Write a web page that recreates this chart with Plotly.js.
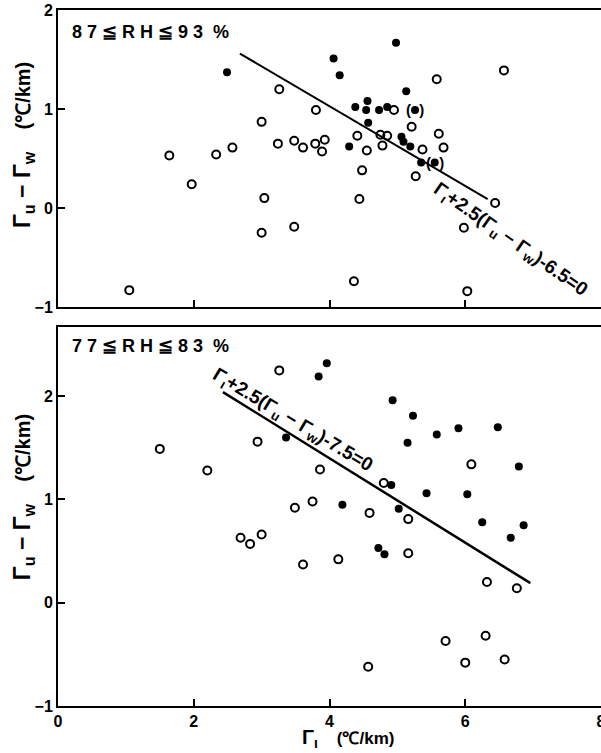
<!DOCTYPE html>
<html><head><meta charset="utf-8">
<script src="https://cdn.plot.ly/plotly-3.0.1.min.js"></script>
<style>html,body{margin:0;padding:0;background:#fff}</style>
</head><body><div id="chart" style="width:601px;height:753px"></div>
<script>
// Top panel: 87 <= RH <= 93 %
const topOpenX = [3.26,3.00,3.24,3.48,2.57,2.33,1.64,1.97,3.04,3.00,3.48,1.05,6.57,5.58,4.95,3.80,5.21,3.61,3.79,3.93,3.89,4.41,4.55,4.75,4.85,4.78,5.37,5.61,5.68,4.48,5.27,4.44,6.44,5.98,4.36,6.03];
const topOpenY = [1.20,0.87,0.65,0.68,0.61,0.54,0.53,0.24,0.10,-0.25,-0.19,-0.83,1.39,1.30,0.99,0.99,0.82,0.61,0.65,0.69,0.57,0.73,0.58,0.74,0.73,0.63,0.59,0.75,0.61,0.38,0.32,0.09,0.05,-0.20,-0.74,-0.84];
const topFillX = [2.49,4.98,4.06,4.15,5.13,4.56,4.38,4.54,4.73,4.85,4.57,4.29,5.06,5.09,5.19,5.35];
const topFillY = [1.37,1.67,1.51,1.34,1.18,1.08,1.02,0.99,0.99,1.02,0.86,0.62,0.72,0.67,0.62,0.46];
const topParenX = [5.26,5.55];
const topParenY = [0.99,0.46];
const topLineX = [2.68,6.33];
const topLineY = [1.56,0.09];
// Bottom panel: 77 <= RH <= 83 %
const botOpenX = [3.26,2.94,1.50,2.20,3.49,2.69,2.83,3.00,6.09,3.86,4.80,3.75,4.59,5.16,5.16,4.13,3.61,6.32,6.76,5.71,6.30,6.00,6.58,4.57];
const botOpenY = [2.25,1.56,1.49,1.28,0.92,0.63,0.57,0.66,1.34,1.29,1.16,0.98,0.87,0.81,0.48,0.42,0.37,0.20,0.14,-0.37,-0.32,-0.58,-0.55,-0.62];
const botFillX = [3.36,3.96,3.84,4.93,5.23,5.58,5.90,6.48,5.15,6.79,4.91,5.43,6.03,4.19,5.02,6.25,6.86,6.67,4.72,4.81];
const botFillY = [1.60,2.32,2.19,1.96,1.81,1.63,1.69,1.70,1.55,1.32,1.14,1.06,1.05,0.95,0.91,0.78,0.75,0.63,0.53,0.47];
const botLineX = [2.43,6.96];
const botLineY = [2.04,0.19];
const xTicks = [0,2,4,6,8];
const topYTicks = [-1,0,1,2];
const botYTicks = [-1,0,1,2];

const openM = {symbol:'circle-open', size:8, color:'#000', line:{width:2, color:'#000'}};
const fillM = {symbol:'circle', size:8, color:'#000'};
const data = [
  {x:topLineX, y:topLineY, mode:'lines', line:{color:'#000', width:2}, xaxis:'x', yaxis:'y', hoverinfo:'skip'},
  {x:topOpenX, y:topOpenY, mode:'markers', marker:openM, xaxis:'x', yaxis:'y'},
  {x:topFillX.concat(topParenX), y:topFillY.concat(topParenY), mode:'markers', marker:fillM, xaxis:'x', yaxis:'y'},
  {x:botLineX, y:botLineY, mode:'lines', line:{color:'#000', width:2.5}, xaxis:'x2', yaxis:'y2', hoverinfo:'skip'},
  {x:botOpenX, y:botOpenY, mode:'markers', marker:openM, xaxis:'x2', yaxis:'y2'},
  {x:botFillX, y:botFillY, mode:'markers', marker:fillM, xaxis:'x2', yaxis:'y2'}
];
const FAM = 'Liberation Sans, Arial, sans-serif';
const lf = {family:FAM, size:18, color:'#000'};
const ax = {showline:true, linecolor:'#000', linewidth:2, mirror:true, ticks:'inside', ticklen:7, tickwidth:2, tickcolor:'#000', showgrid:false, zeroline:false, ticklabeloverflow:'allow', tickfont:{family:FAM, size:16, color:'#000', weight:'bold'}};
const yTitle = '<b><span style="font-size:23px">Γ<sub>u</sub> − Γ<sub>w</sub></span>    (℃/km)</b>';
const annotations = [
  {xref:'x', yref:'y', x:0.17, y:1.78, xanchor:'left', yanchor:'middle', showarrow:false, text:'<b>8 7 ≦ R H ≦ 9 3  %</b>', font:lf},
  {xref:'x2', yref:'y2', x:0.17, y:2.49, xanchor:'left', yanchor:'middle', showarrow:false, text:'<b>7 7 ≦ R H ≦ 8 3  %</b>', font:lf},
  {xref:'x', yref:'y', x:6.66, y:-0.32, showarrow:false, textangle:35, text:'<b>Γ<sub>ι</sub>+2.5(Γ<sub>u</sub> − Γ<sub>w</sub>)-6.5=0</b>', font:{family:FAM, size:19, color:'#000'}},
  {xref:'x2', yref:'y2', x:3.46, y:1.76, showarrow:false, textangle:31, text:'<b>Γ<sub>ι</sub>+2.5(Γ<sub>u</sub> − Γ<sub>w</sub>)-7.5=0</b>', font:{family:FAM, size:19, color:'#000'}},
  {xref:'paper', yref:'paper', x:0.534, y:-0.046, xanchor:'center', yanchor:'middle', showarrow:false, text:'<b><span style="font-size:20px">Γ<sub>ι</sub></span>    (℃/km)</b>', font:{family:FAM, size:17, color:'#000'}},
  {xref:'paper', yref:'paper', x:-0.0645, y:0.806, xanchor:'center', yanchor:'middle', showarrow:false, textangle:-90, text:yTitle, font:{family:FAM, size:20, color:'#000'}},
  {xref:'paper', yref:'paper', x:-0.0645, y:0.300, xanchor:'center', yanchor:'middle', showarrow:false, textangle:-90, text:yTitle, font:{family:FAM, size:20, color:'#000'}}
].concat(topParenX.map((v,i)=>({xref:'x', yref:'y', x:v, y:topParenY[i], showarrow:false, text:'<b>(  )</b>', font:{family:FAM, size:15, color:'#000'}})));
const layout = {
  width:601, height:753, margin:{l:58, r:0, t:10, b:47},
  paper_bgcolor:'#fff', plot_bgcolor:'#fff', showlegend:false,
  xaxis: Object.assign({}, ax, {anchor:'y', range:[0,8], tickvals:xTicks, showticklabels:false, domain:[0,1]}),
  yaxis: Object.assign({}, ax, {anchor:'x', range:[-1.0,2.0], tickvals:topYTicks, domain:[0.5733,1]}),
  xaxis2: Object.assign({}, ax, {anchor:'y2', range:[0,8], tickvals:xTicks, domain:[0,1]}),
  yaxis2: Object.assign({}, ax, {anchor:'x2', range:[-1.0,2.67], tickvals:botYTicks, domain:[0,0.5445]}),
  annotations: annotations
};
Plotly.newPlot('chart', data, layout, {staticPlot:true});
</script></body></html>
